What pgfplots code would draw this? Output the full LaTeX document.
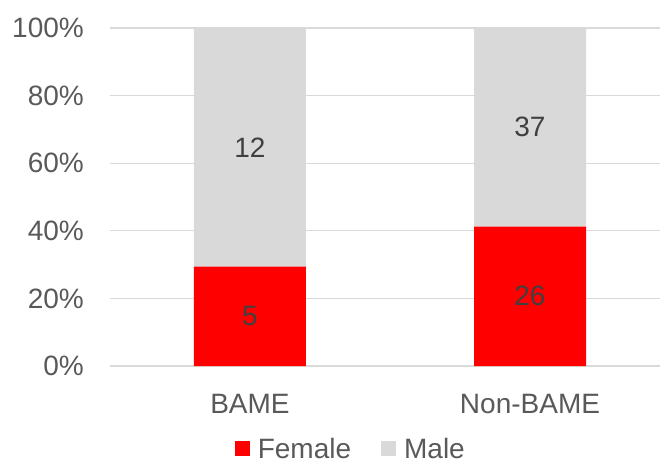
\documentclass[border=0pt]{standalone}
\usepackage{pgfplots}
\usepackage{pgfplotstable}
\usepackage{fontspec}
\setmainfont{Liberation Sans}
\pgfplotsset{compat=1.18}

\definecolor{femalered}{HTML}{FF0000}
\definecolor{malegrey}{HTML}{D9D9D9}
\definecolor{gridgrey}{HTML}{D9D9D9}
\definecolor{ticktext}{HTML}{595959}
\definecolor{labeltext}{HTML}{404040}

% head counts per group
\pgfplotstableread{
group female male
0     5      12
1     26     37
}\counts

\newcommand{\chartfont}{\fontsize{28bp}{32bp}\selectfont}

\begin{document}
\begin{tikzpicture}
\begin{axis}[
  at={(0,0)}, anchor=south west,
  scale only axis, width=550bp, height=338bp,
  ybar stacked, bar width=0.4,
  xmin=-0.5, xmax=1.4643, ymin=0, ymax=100,
  xtick={0,1}, xticklabels={BAME,Non-BAME},
  ytick={0,20,40,60,80,100},
  yticklabels={0\%,20\%,40\%,60\%,80\%,100\%},
  ymajorgrids, grid style={draw=gridgrey, line width=1.3bp},
  axis line style={draw=none},
  tick style={draw=none},
  ticklabel style={font=\chartfont, text=ticktext, inner sep=0pt},
  yticklabel style={anchor=east, xshift=-26bp},
  xticklabel style={anchor=north, yshift=-28bp},
  legend style={at={(axis description cs:0.436,-0.245)}, anchor=center,
    draw=none, fill=none, font=\chartfont, text=ticktext,
    nodes={inner sep=0pt},
    /tikz/every odd column/.append style={column sep=8bp},
    /tikz/every even column/.append style={column sep=30bp}},
  legend columns=2,
  every node near coord/.append style={anchor=center,
    font=\chartfont, text=labeltext, inner sep=0pt},
]
\addplot[fill=femalered, draw=none,
  nodes near coords, point meta=explicit symbolic,
  legend image code/.code={\fill[femalered] (0bp,-7.5bp) rectangle (15bp,7.5bp);}]
  table[x=group, y expr={100*\thisrow{female}/(\thisrow{female}+\thisrow{male})}, meta=female]{\counts};
\addlegendentry{Female}
\addplot[fill=malegrey, draw=none,
  nodes near coords, point meta=explicit symbolic,
  legend image code/.code={\fill[malegrey] (0bp,-7.5bp) rectangle (15bp,7.5bp);}]
  table[x=group, y expr={100*\thisrow{male}/(\thisrow{female}+\thisrow{male})}, meta=male]{\counts};
\addlegendentry{Male}
\end{axis}
\pgfresetboundingbox
\path[use as bounding box] (-110bp,-102bp) rectangle (550bp,366bp);
\end{tikzpicture}
\end{document}
